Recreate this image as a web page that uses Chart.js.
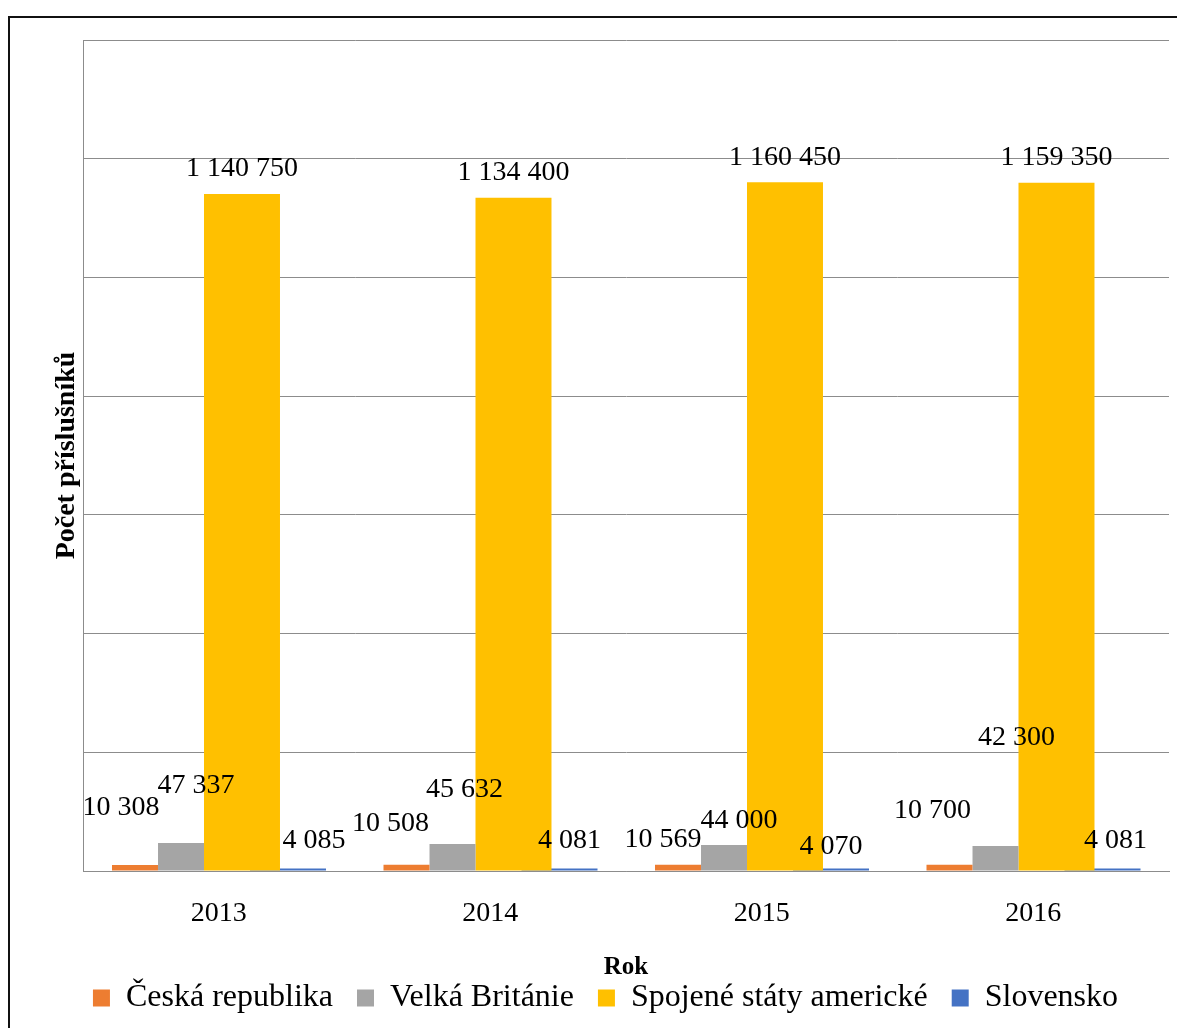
<!DOCTYPE html>
<html>
<head>
<meta charset="utf-8">
<title>Počet příslušníků</title>
<script src="https://cdn.jsdelivr.net/npm/chart.js@4.4.0/dist/chart.umd.min.js"></script>
<style>
  html, body { margin: 0; padding: 0; background: #fff; overflow: hidden; }
  #frame { position: absolute; left: 8px; top: 16px; width: 1220px; height: 1060px;
           border-left: 2px solid #111; border-top: 2px solid #111; }
  #wrap { position: absolute; left: 0; top: 0; width: 1177px; height: 1028px; }
</style>
</head>
<body>
<div id="frame"></div>
<div id="wrap"><canvas id="chart"></canvas></div>
<script>
// armed forces personnel by country and year
var years = ['2013', '2014', '2015', '2016'];
var ceskaRepublika = [10308, 10508, 10569, 10700];
var velkaBritanie = [47337, 45632, 44000, 42300];
var spojeneStaty = [1140750, 1134400, 1160450, 1159350];
var slovensko = [4085, 4081, 4070, 4081];

var yMax = 1400000;
var yStep = 200000;

// hand-placed value labels: [dx, dy] from the default spot above each bar
var labelNudge = [
  [[-14, -32], [-16, -16], [-15, 0], [-17, -29]],
  [[15, -32], [12, -29], [15, 1], [21, -83]],
  [[0, 0], [0, 0], [0, 0], [0, 0]],
  [[26, -3], [10, -3], [0, 3], [13, -3]]
];

var serif = '"Liberation Serif", "Times New Roman", serif';
var axisGrey = '#8c8c8c';

function formatNum(v) {
  return String(v).replace(/\B(?=(\d{3})+(?!\d))/g, ' ');
}

function pointsOf(values) {
  return values.map(function(v, i) { return { x: i, y: v }; });
}

// one tick per year so the bar width is measured from year spacing
function yearTicks(scale) {
  scale.ticks = years.map(function(y, i) { return { value: i }; });
}

// hidden x scale for one series; shift moves its bars off the year centre
// (in fractions of a year slot)
function seriesAxis(shift) {
  return {
    type: 'linear',
    display: false,
    offset: false,
    min: -0.5 - shift,
    max: years.length - 0.5 - shift,
    grid: { offset: false },
    afterBuildTicks: yearTicks
  };
}

var valueLabels = {
  id: 'valueLabels',
  afterDatasetsDraw: function(chart) {
    var ctx = chart.ctx;
    ctx.save();
    ctx.font = '28px ' + serif;
    ctx.fillStyle = '#000';
    ctx.textAlign = 'center';
    ctx.textBaseline = 'middle';
    chart.data.datasets.forEach(function(ds, d) {
      chart.getDatasetMeta(d).data.forEach(function(bar, i) {
        var n = labelNudge[d][i];
        ctx.fillText(formatNum(ds.data[i].y), bar.x + n[0], bar.y - 25 + n[1]);
      });
    });
    ctx.restore();
  }
};

var ctx = document.getElementById('chart').getContext('2d');
var myChart = new Chart(ctx, {
  type: 'bar',
  data: {
    labels: years,
    datasets: [{
      label: 'Česká republika',
      data: pointsOf(ceskaRepublika),
      backgroundColor: '#ED7D31',
      xAxisID: 'xCz',
      categoryPercentage: 0.1694
    }, {
      label: 'Velká Británie',
      data: pointsOf(velkaBritanie),
      backgroundColor: '#A5A5A5',
      xAxisID: 'xUk',
      categoryPercentage: 0.1694
    }, {
      label: 'Spojené státy americké',
      data: pointsOf(spojeneStaty),
      backgroundColor: '#FFC000',
      xAxisID: 'xUs',
      categoryPercentage: 0.2799
    }, {
      label: 'Slovensko',
      data: pointsOf(slovensko),
      backgroundColor: '#4472C4',
      xAxisID: 'xSk',
      categoryPercentage: 0.2799
    }]
  },
  options: {
    responsive: true,
    maintainAspectRatio: false,
    animation: false,
    datasets: { bar: { grouped: false, barPercentage: 1, borderWidth: 0 } },
    layout: { padding: { left: 42, right: 8, top: 40, bottom: 4 } },
    plugins: {
      tooltip: { enabled: false },
      legend: {
        position: 'bottom',
        labels: {
          font: { family: serif, size: 32 },
          color: '#000',
          boxWidth: 17,
          boxHeight: 17,
          padding: 24
        }
      }
    },
    scales: {
      x: {
        type: 'category',
        labels: years,
        offset: true,
        grid: { display: false, drawTicks: false },
        border: { display: true, color: axisGrey, width: 1 },
        ticks: { color: '#000', padding: 26, font: { family: serif, size: 28 } },
        title: {
          display: true,
          text: 'Rok',
          color: '#000',
          font: { family: serif, size: 25, weight: 'bold' },
          padding: { top: 0, bottom: -25 }
        },
        afterFit: function(scale) { scale.height = 87; }
      },
      xCz: seriesAxis(-0.3085),
      xUk: seriesAxis(-0.1390),
      xUs: seriesAxis(0.0856),
      xSk: seriesAxis(0.2551),
      y: {
        min: 0,
        max: yMax,
        ticks: { display: false, stepSize: yStep },
        grid: { color: axisGrey, lineWidth: 1, drawTicks: false },
        border: { display: true, color: axisGrey, width: 1 },
        title: {
          display: true,
          text: 'Počet příslušníků',
          color: '#000',
          font: { family: serif, size: 28, weight: 'bold' },
          padding: { top: 8, bottom: 0 }
        },
        afterFit: function(scale) { scale.width = 41; }
      }
    }
  },
  plugins: [valueLabels]
});
</script>
</body>
</html>
